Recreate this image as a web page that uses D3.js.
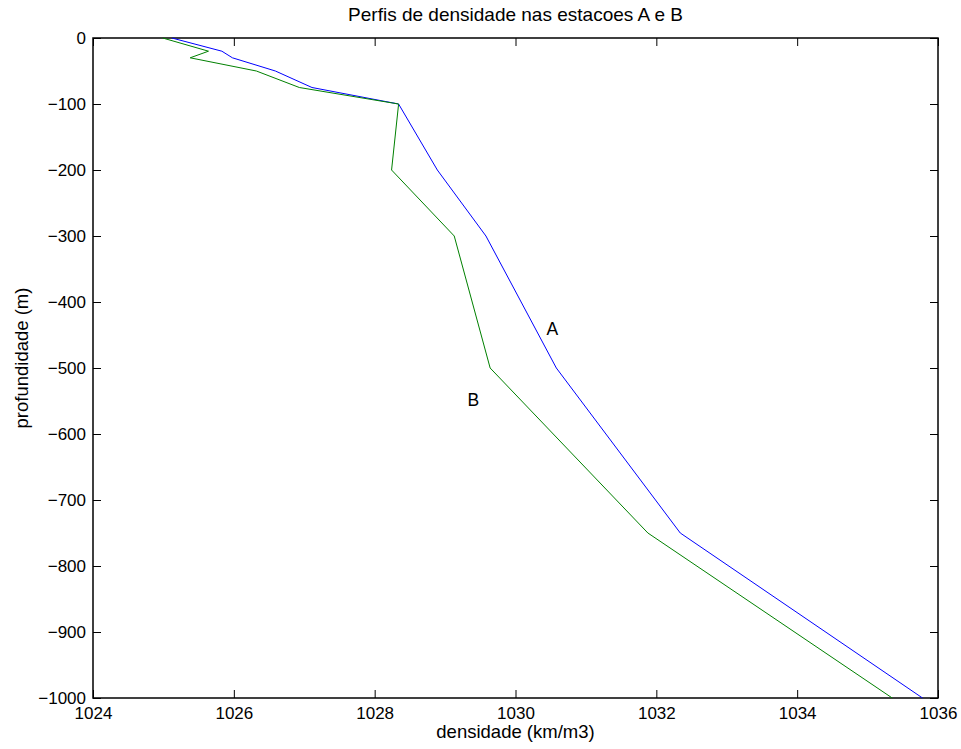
<!DOCTYPE html>
<html>
<head>
<meta charset="utf-8">
<script src="https://cdn.jsdelivr.net/npm/d3@7"></script>
<style>
	body { margin: 0; background: #fff; }
	text { font-family: "Liberation Sans", Arial, Helvetica, sans-serif; fill: #000; }
</style>
</head>
<body>
<div id="chart"></div>
<script>
//---------------- data ----------------------
var depths = [0, -20, -30, -50, -75, -100, -200, -300, -500, -750, -1000];
var densityA = [1025.12, 1025.83, 1025.98, 1026.59, 1027.11, 1028.34, 1028.89, 1029.58, 1030.58, 1032.34, 1035.78];
var densityB = [1024.99, 1025.64, 1025.38, 1026.32, 1026.93, 1028.34, 1028.24, 1029.13, 1029.64, 1031.88, 1035.35];
var xTicks = [1024, 1026, 1028, 1030, 1032, 1034, 1036];
var yTicks = [0, -100, -200, -300, -400, -500, -600, -700, -800, -900, -1000];
var stationLabels = [
	{name: "A", x: 1030.44, y: -440},
	{name: "B", x: 1029.32, y: -548}
];

//---------------- layout ----------------------
var w = 961;
var h = 749;
var padLeft = 93, padRight = 938, padTop = 38, padBottom = 698;
var tickLen = 8;
var tickFont = 17;
var labelFont = 18.5;

var svg = d3.select("#chart").append("svg").attr("width", w).attr("height", h);

//---------------- scales ----------------------
var xScale = d3.scaleLinear().domain([1024, 1036]).range([padLeft, padRight]);
var yScale = d3.scaleLinear().domain([-1000, 0]).range([padBottom, padTop]);

var fmt = function(d) { return d < 0 ? "\u2212" + Math.abs(d) : "" + d; };

//---------------- axes (ticks inside, mirrored) ----------------------
var xAxisB = d3.axisBottom(xScale).tickValues(xTicks).tickSizeInner(-tickLen).tickSizeOuter(0).tickPadding(9).tickFormat(d3.format("d"));
var xAxisT = d3.axisTop(xScale).tickValues(xTicks).tickSizeInner(-tickLen).tickSizeOuter(0).tickFormat("");
var yAxisL = d3.axisLeft(yScale).tickValues(yTicks).tickSizeInner(-tickLen).tickSizeOuter(0).tickPadding(7).tickFormat(fmt);
var yAxisR = d3.axisRight(yScale).tickValues(yTicks).tickSizeInner(-tickLen).tickSizeOuter(0).tickFormat("");

function styleAxis(g) {
	g.select(".domain").remove();
	g.selectAll(".tick line").attr("stroke", "#000").attr("stroke-width", 1);
	g.selectAll(".tick text").style("font-size", tickFont + "px").attr("fill", "#000");
}

svg.append("g").attr("transform", "translate(0," + padBottom + ")").call(xAxisB).call(styleAxis);
svg.append("g").attr("transform", "translate(0," + padTop + ")").call(xAxisT).call(styleAxis);
svg.append("g").attr("transform", "translate(" + padLeft + ",0)").call(yAxisL).call(styleAxis);
svg.append("g").attr("transform", "translate(" + padRight + ",0)").call(yAxisR).call(styleAxis);

// box
svg.append("rect")
	.attr("x", padLeft).attr("y", padTop)
	.attr("width", padRight - padLeft).attr("height", padBottom - padTop)
	.attr("fill", "none").attr("stroke", "#000").attr("stroke-width", 1.5);

//---------------- profiles ----------------------
var line = d3.line()
	.x(function(d) { return xScale(d[0]); })
	.y(function(d) { return yScale(d[1]); });

svg.append("path")
	.datum(d3.zip(densityA, depths))
	.attr("d", line).attr("fill", "none").attr("stroke", "#0000ff").attr("stroke-width", 1);

svg.append("path")
	.datum(d3.zip(densityB, depths))
	.attr("d", line).attr("fill", "none").attr("stroke", "#008000").attr("stroke-width", 1);

svg.selectAll(".station")
	.data(stationLabels)
	.enter()
	.append("text")
	.attr("class", "station")
	.attr("x", function(d) { return xScale(d.x); })
	.attr("y", function(d) { return yScale(d.y); })
	.attr("dy", "0.35em")
	.style("font-size", "17.5px")
	.text(function(d) { return d.name; });

//---------------- titles ----------------------
svg.append("text")
	.attr("x", 515.5).attr("y", 21)
	.style("text-anchor", "middle").style("font-size", "19px")
	.text("Perfis de densidade nas estacoes A e B");

svg.append("text")
	.attr("x", (padLeft + padRight) / 2).attr("y", 738)
	.style("text-anchor", "middle").style("font-size", labelFont + "px")
	.text("densidade (km/m3)");

svg.append("text")
	.attr("transform", "rotate(-90)")
	.attr("x", -358).attr("y", 28)
	.style("text-anchor", "middle").style("font-size", labelFont + "px")
	.text("profundidade (m)");
</script>
</body>
</html>
